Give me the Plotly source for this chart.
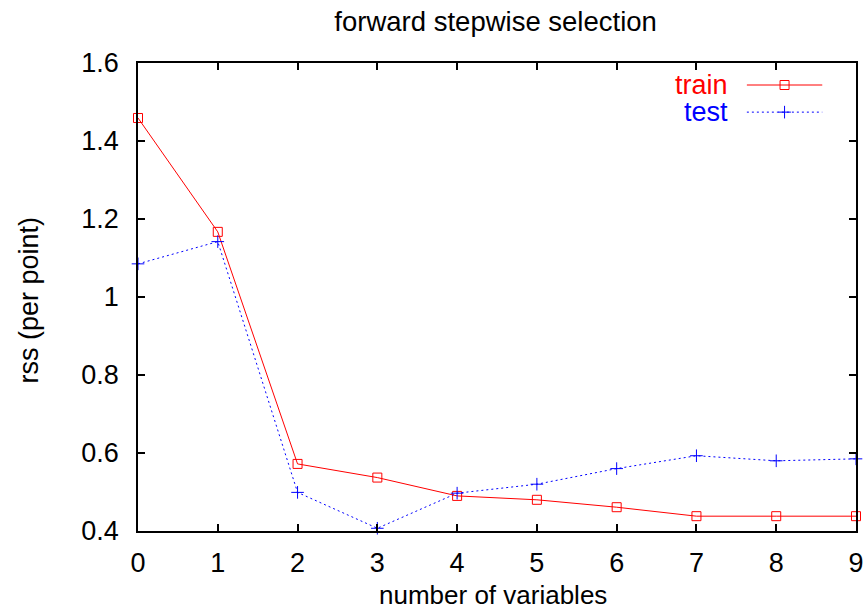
import plotly.graph_objects as go

n_vars = [0, 1, 2, 3, 4, 5, 6, 7, 8, 9]
train_rss = [1.459, 1.167, 0.572, 0.537, 0.490, 0.480, 0.461, 0.438, 0.438, 0.438]
test_rss = [1.085, 1.142, 0.499, 0.407, 0.497, 0.520, 0.560, 0.593, 0.580, 0.585]
series_names = ["train", "test"]
y_ticks = [0.4, 0.6, 0.8, 1.0, 1.2, 1.4, 1.6]
y_tick_text = ["0.4", "0.6", "0.8", "1", "1.2", "1.4", "1.6"]

FONT = "Liberation Sans, Arial, Helvetica, sans-serif"
FS = 27
RED = "#ff0000"
BLUE = "#0000ff"

fig = go.Figure()
fig.add_trace(go.Scatter(
    x=n_vars, y=train_rss, mode="lines+markers", name=series_names[0],
    line=dict(color=RED, width=1),
    marker=dict(symbol="square-open", size=9, color=RED, line=dict(width=1)),
    cliponaxis=False, showlegend=False))
fig.add_trace(go.Scatter(
    x=n_vars, y=test_rss, mode="lines+markers", name=series_names[1],
    line=dict(color=BLUE, width=1, dash="2px,3px"),
    marker=dict(symbol="cross-thin-open", size=9, color=BLUE, line=dict(width=1, color=BLUE)),
    cliponaxis=False, showlegend=False))

# legend samples on an overlay axis (0..1 over the plot area)
leg_x = [0.848, 0.953]
leg_y = [0.953, 0.895]
fig.add_trace(go.Scatter(x=leg_x, y=[leg_y[0]] * 2, mode="lines", xaxis="x2", yaxis="y2",
                         line=dict(color=RED, width=1), showlegend=False, hoverinfo="skip"))
fig.add_trace(go.Scatter(x=[sum(leg_x) / 2], y=[leg_y[0]], mode="markers", xaxis="x2", yaxis="y2",
                         marker=dict(symbol="square-open", size=9, color=RED, line=dict(width=1)),
                         showlegend=False, hoverinfo="skip"))
fig.add_trace(go.Scatter(x=leg_x, y=[leg_y[1]] * 2, mode="lines", xaxis="x2", yaxis="y2",
                         line=dict(color=BLUE, width=1, dash="2px,3px"), showlegend=False, hoverinfo="skip"))
fig.add_trace(go.Scatter(x=[sum(leg_x) / 2], y=[leg_y[1]], mode="markers", xaxis="x2", yaxis="y2",
                         marker=dict(symbol="cross-thin-open", size=9, color=BLUE, line=dict(width=1, color=BLUE)),
                         showlegend=False, hoverinfo="skip"))

fig.add_annotation(x=0.8245, y=leg_y[0], xref="paper", yref="paper", text=series_names[0],
                   showarrow=False, xanchor="right", yanchor="middle",
                   font=dict(family=FONT, size=FS, color=RED))
fig.add_annotation(x=0.8245, y=leg_y[1], xref="paper", yref="paper", text=series_names[1],
                   showarrow=False, xanchor="right", yanchor="middle",
                   font=dict(family=FONT, size=FS, color=BLUE))

# axis titles
fig.add_annotation(x=0.495, y=-0.137, xref="paper", yref="paper", text="number of variables",
                   showarrow=False, xanchor="center", yanchor="middle",
                   font=dict(family=FONT, size=26, color="black"))
fig.add_annotation(x=-0.1525, y=0.4936, xref="paper", yref="paper", text="rss (per point)",
                   showarrow=False, xanchor="center", yanchor="middle", textangle=-90,
                   font=dict(family=FONT, size=FS, color="black"))

axis_common = dict(showline=True, linecolor="black", linewidth=1.5, mirror="ticks",
                   ticks="inside", ticklen=7, tickwidth=1.5, tickcolor="black",
                   showgrid=False, zeroline=False, automargin=False,
                   tickfont=dict(family=FONT, size=FS, color="black"))

fig.update_layout(
    width=868, height=614,
    margin=dict(l=138, r=12, t=63, b=83),
    paper_bgcolor="white", plot_bgcolor="white",
    title=dict(text="forward stepwise selection", x=0.571, xanchor="center",
               y=0.965, yanchor="middle",
               font=dict(family=FONT, size=27.5, color="black")),
    xaxis=dict(range=[0, 9], tickvals=n_vars, ticktext=[str(v) for v in n_vars],
               ticklabelstandoff=7, **axis_common),
    yaxis=dict(range=[0.4, 1.6], tickvals=y_ticks, ticktext=y_tick_text,
               ticklabelstandoff=12, **axis_common),
    xaxis2=dict(overlaying="x", range=[0, 1], visible=False),
    yaxis2=dict(overlaying="y", range=[0, 1], visible=False),
    showlegend=False,
)

fig.write_html(
    "out.html",
    config={"displayModeBar": False},
    post_script="document.body.style.margin='0';document.body.style.overflow='hidden';",
)
